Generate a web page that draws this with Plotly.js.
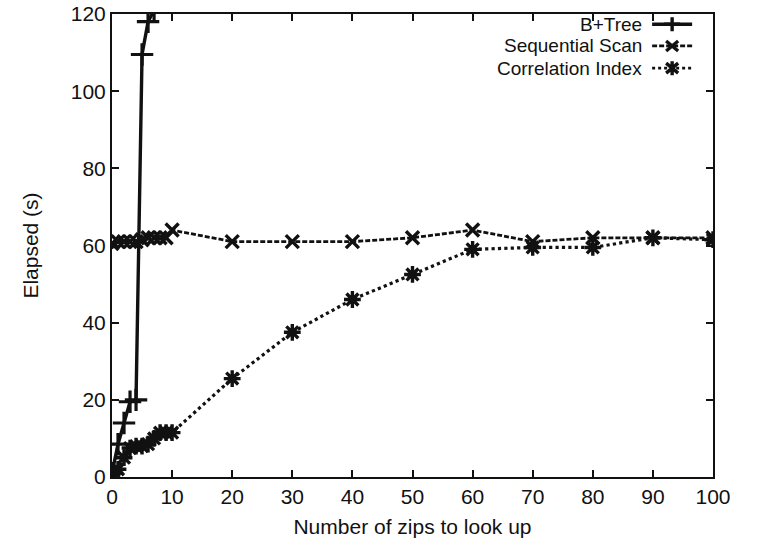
<!DOCTYPE html>
<html>
<head>
<meta charset="utf-8">
<script src="https://cdn.plot.ly/plotly-3.0.1.min.js"></script>
<style>html,body{margin:0;padding:0;background:#fff;}#chart{width:766px;height:548px;}</style>
</head>
<body>
<div id="chart"></div>
<script>
// Data
const btreeX = [0, 1, 2, 3, 4, 5, 6, 7];
const btreeY = [1, 8.5, 14, 19.5, 20, 109.5, 118, 121];

const seqX = [0, 1, 2, 3, 4, 5, 6, 7, 8, 9, 10, 20, 30, 40, 50, 60, 70, 80, 90, 100];
const seqY = [60.5, 61, 61, 61, 61, 61.5, 62, 62, 62, 62, 64, 61, 61, 61, 62, 64, 61, 62, 62, 62];

const corrX = [0, 1, 2, 3, 4, 5, 6, 7, 8, 9, 10, 20, 30, 40, 50, 60, 70, 80, 90, 100];
const corrY = [0.5, 2, 5, 7.5, 8, 8, 8.5, 10, 11.5, 11.5, 11.5, 25.5, 37.5, 46, 52.5, 59, 59.5, 59.5, 62, 61.5];

const seriesNames = ["B+Tree", "Sequential Scan", "Correlation Index"];
const xTicks = [0, 10, 20, 30, 40, 50, 60, 70, 80, 90, 100];
const yTicks = [0, 20, 40, 60, 80, 100, 120];

const ink = "#111";
const font = {family: "Liberation Sans, Arial, sans-serif", size: 21, color: ink};
const titleFont = {family: "Liberation Sans, Arial, sans-serif", size: 21, color: ink};
const legendFont = {family: "Liberation Sans, Arial, sans-serif", size: 19, color: ink};

const traces = [
  {x: btreeX, y: btreeY, name: seriesNames[0], mode: "lines+markers",
   line: {color: ink, width: 3.4, dash: "solid"},
   marker: {symbol: "cross-thin-open", size: 16, line: {color: ink, width: 3.2}}},
  {x: seqX, y: seqY, name: seriesNames[1], mode: "lines+markers",
   line: {color: ink, width: 2.8, dash: "5px,2px"},
   marker: {symbol: "x-thin-open", size: 13, line: {color: ink, width: 3.4}}},
  {x: corrX, y: corrY, name: seriesNames[2], mode: "lines+markers",
   line: {color: ink, width: 3.2, dash: "dot"},
   marker: {symbol: "asterisk-open", size: 14, line: {color: ink, width: 3.4}}}
];

// Custom legend in gnuplot style: text right-aligned, sample to its right
const legendRows = [0.978, 0.931, 0.883];
const textX = 0.884, sampleX = 0.932;
const annotations = [], shapes = [];
const symbolPaths = [
  "M0,-7 L0,7 M-8,0 L8,0",
  "M-6,-5 L6,5 M-6,5 L6,-5",
  "M-6,-5 L6,5 M-6,5 L6,-5 M0,-7 L0,7"
];
const dashes = ["solid", "5px,2px", "dot"];
seriesNames.forEach((nm, i) => {
  annotations.push({text: nm, xref: "paper", yref: "paper", x: textX, y: legendRows[i],
    xanchor: "right", yanchor: "middle", showarrow: false, font: legendFont, borderpad: 0});
  shapes.push({type: "line", xref: "paper", yref: "paper", xsizemode: "pixel", ysizemode: "scaled",
    xanchor: sampleX, x0: -20, x1: 20, y0: legendRows[i], y1: legendRows[i],
    line: {color: ink, width: i === 0 ? 3.4 : 2.8, dash: dashes[i]}});
  shapes.push({type: "path", xref: "paper", yref: "paper", xsizemode: "pixel", ysizemode: "pixel",
    xanchor: sampleX, yanchor: legendRows[i], path: symbolPaths[i],
    line: {color: ink, width: 3.4}});
});

const axisCommon = {
  showline: true, linecolor: ink, linewidth: 2, mirror: "ticks",
  ticks: "inside", ticklen: 7, tickwidth: 2, tickcolor: ink,
  showgrid: false, zeroline: false, tickfont: font
};

const layout = {
  width: 766, height: 548,
  margin: {l: 112, r: 53, t: 14, b: 71},
  paper_bgcolor: "#fff", plot_bgcolor: "#fff",
  showlegend: false,
  font: font,
  xaxis: Object.assign({}, axisCommon, {
    range: [0, 100], tickvals: xTicks, ticktext: xTicks.map(String),
    title: {text: "Number of zips to look up", font: titleFont, standoff: 12}
  }),
  yaxis: Object.assign({}, axisCommon, {
    range: [0, 120], tickvals: yTicks, ticktext: yTicks.map(String),
    title: {text: "Elapsed (s)", font: titleFont, standoff: 26}
  }),
  annotations: annotations,
  shapes: shapes
};

Plotly.newPlot("chart", traces, layout, {displayModeBar: false, staticPlot: true});
</script>
</body>
</html>
